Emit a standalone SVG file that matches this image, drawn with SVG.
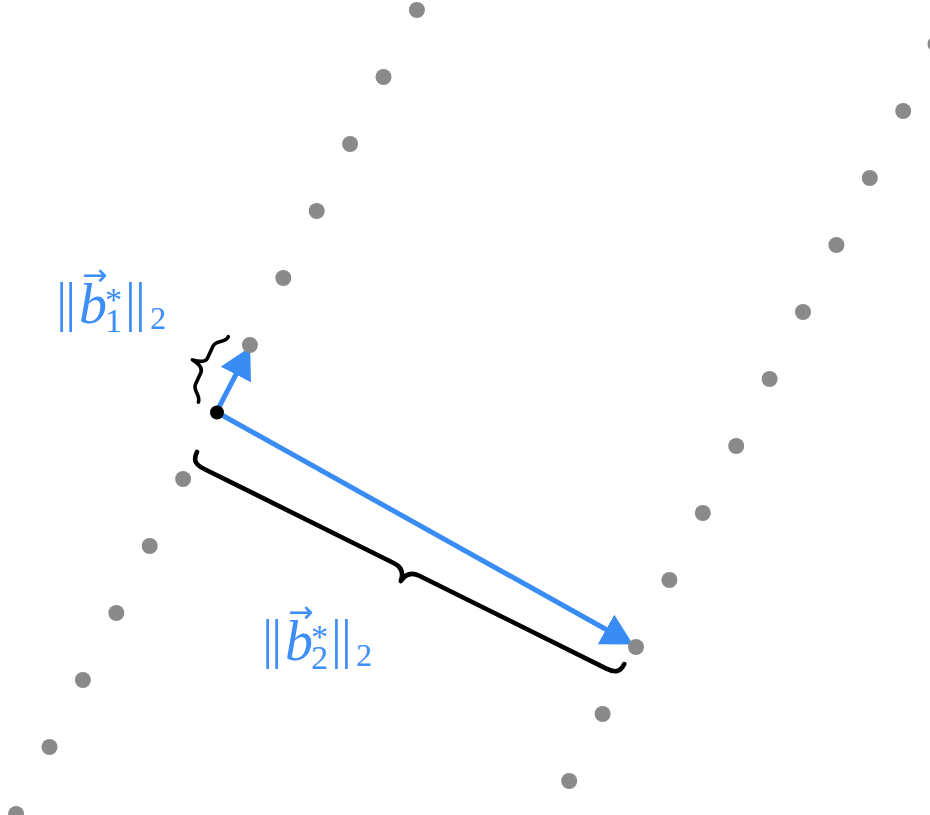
<svg xmlns="http://www.w3.org/2000/svg" width="930" height="815" viewBox="0 0 930 815">
  <style>
    .dot { fill: #8a8a8a; }
    .vec { stroke: #3a8cf5; stroke-width: 5; fill: none; stroke-linecap: butt; marker-end: url(#head); }
    .brace { stroke: #000; fill: none; stroke-linecap: round; stroke-linejoin: round; }
    .lbl { fill: #3d8ef5; font-family: "Liberation Serif", "Times New Roman", serif; }
    .bar { font-size: 54px; }
    .b { font-size: 56px; font-style: italic; }
    .arr { font-size: 30px; font-family: "DejaVu Sans", sans-serif; }
    .sub { font-size: 34px; }
    .sub2 { font-size: 32px; }
  </style>
  <defs>
    <marker id="head" markerUnits="userSpaceOnUse" viewBox="0 -17 31 34" markerWidth="31" markerHeight="34" refX="10" refY="0" orient="auto">
      <path d="M0,-17 L31,0 L0,17 Z" fill="#3a8cf5"/>
    </marker>
  </defs>
  <rect width="930" height="815" fill="#fff"/>

  <g id="connectors">
    <path class="vec" d="M216.5,412 L240.5,365.7"/>
    <path class="vec" d="M216.5,412 L614.7,634.3"/>
  </g>

  <g id="lattice-left">
    <circle class="dot" cx="416.9" cy="10" r="8"/>
    <circle class="dot" cx="383.5" cy="77" r="8"/>
    <circle class="dot" cx="350.1" cy="144" r="8"/>
    <circle class="dot" cx="316.7" cy="211" r="8"/>
    <circle class="dot" cx="283.3" cy="278" r="8"/>
    <circle class="dot" cx="249.9" cy="345" r="8"/>
    <circle class="dot" cx="183.1" cy="479" r="8"/>
    <circle class="dot" cx="149.7" cy="546" r="8"/>
    <circle class="dot" cx="116.3" cy="613" r="8"/>
    <circle class="dot" cx="82.9" cy="680" r="8"/>
    <circle class="dot" cx="49.5" cy="747" r="8"/>
    <circle class="dot" cx="16.1" cy="814" r="8"/>
  </g>
  <g id="lattice-right">
    <circle class="dot" cx="935.5" cy="44" r="8"/>
    <circle class="dot" cx="903.2" cy="111" r="8"/>
    <circle class="dot" cx="869.8" cy="178" r="8"/>
    <circle class="dot" cx="836.4" cy="245" r="8"/>
    <circle class="dot" cx="803" cy="312" r="8"/>
    <circle class="dot" cx="769.6" cy="379" r="8"/>
    <circle class="dot" cx="736.2" cy="446" r="8"/>
    <circle class="dot" cx="702.8" cy="513" r="8"/>
    <circle class="dot" cx="669.4" cy="580" r="8"/>
    <circle class="dot" cx="636" cy="647" r="8"/>
    <circle class="dot" cx="602.6" cy="714" r="8"/>
    <circle class="dot" cx="569.2" cy="781" r="8"/>
  </g>
  <g id="origin">
    <circle cx="217" cy="412.5" r="7" fill="#000"/>
  </g>

  <g id="brace1" transform="translate(228.3,336.7) rotate(114.6)">
    <path class="brace" stroke-width="3.6" d="M0,0 C7,0 8,10 15,10 L28,10 C33,10 35,16 36,23 C37,16 39,10 44,10 L57,10 C64,10 65,0 72,0"/>
  </g>
  <g id="brace2" transform="translate(197,452) rotate(26.4)">
    <path class="brace" stroke-width="4.6" d="M0,0 C0,9 4,12 14,12 L226,12 C234,12 239,16 240,25 C241,16 246,12 254,12 L463,12 C473,12 477,9 477,0"/>
  </g>

  <g id="label1" class="lbl">
    <text><tspan class="bar" x="56.3" y="320">|</tspan><tspan class="bar" x="65.3" y="320">|</tspan><tspan class="arr" x="82" y="285">→</tspan><tspan class="b" x="79" y="323">b</tspan><tspan class="sub" x="105" y="311">*</tspan><tspan class="sub" x="105" y="332">1</tspan><tspan class="bar" x="125" y="320">|</tspan><tspan class="bar" x="135" y="320">|</tspan><tspan class="sub2" x="150" y="329">2</tspan></text>
  </g>
  <g id="label2" class="lbl" transform="translate(206,337)">
    <text><tspan class="bar" x="56.3" y="320">|</tspan><tspan class="bar" x="65.3" y="320">|</tspan><tspan class="arr" x="82" y="285">→</tspan><tspan class="b" x="79" y="323">b</tspan><tspan class="sub" x="105" y="311">*</tspan><tspan class="sub" x="105" y="332">2</tspan><tspan class="bar" x="125" y="320">|</tspan><tspan class="bar" x="135" y="320">|</tspan><tspan class="sub2" x="150" y="329">2</tspan></text>
  </g>
</svg>
